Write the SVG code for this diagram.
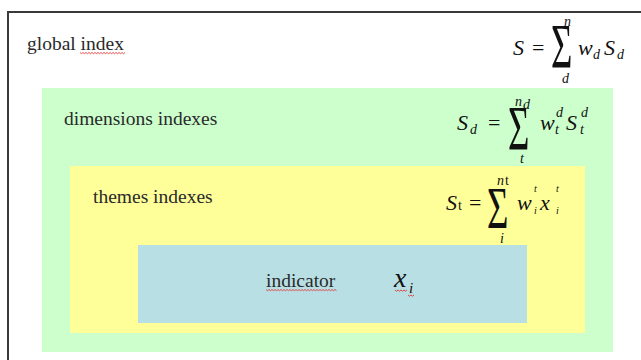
<svg xmlns="http://www.w3.org/2000/svg" width="641" height="360" viewBox="0 0 641 360">
<style>
text{font-family:'Liberation Serif','DejaVu Serif',serif}
.lbl{font-size:19.5px;fill:#2a2a2a}
.m{font-style:italic;fill:#111}
.r{fill:#111}
.big{font-size:22px}
.sm{font-size:14px}
.xs{font-size:10px}
.sig{font-size:46px;fill:#111}
.sq{fill:none;stroke:#e03a3a;stroke-width:0.9}
</style>
<rect x="0" y="0" width="641" height="360" fill="#ffffff"/>
<g id="global">
<path d="M8,360 L8,12 L641,12" fill="none" stroke="#3a3a3a" stroke-width="2"/>
<text class="lbl" x="27" y="50" font-family="Liberation Serif, serif">global index</text>
<path class="sq" d="M80,52.5 l1.5,1.2 l1.5,-1.2 l1.5,1.2 l1.5,-1.2 l1.5,1.2 l1.5,-1.2 l1.5,1.2 l1.5,-1.2 l1.5,1.2 l1.5,-1.2 l1.5,1.2 l1.5,-1.2 l1.5,1.2 l1.5,-1.2 l1.5,1.2 l1.5,-1.2 l1.5,1.2 l1.5,-1.2 l1.5,1.2 l1.5,-1.2 l1.5,1.2 l1.5,-1.2 l1.5,1.2 l1.5,-1.2 l1.5,1.2 l1.5,-1.2 l1.5,1.2 l1.5,-1.2 l1.5,1.2 l1.5,-1.2"/>
<g id="formula-global" font-family="Liberation Serif, serif">
<text class="m big" x="513" y="55">S</text>
<text class="r big" x="532" y="55">=</text>
<text class="sig" transform="translate(551,68) scale(0.8,1.37)">Σ</text>
<text class="m sm" x="564" y="26">n</text>
<text class="m sm" x="562" y="83">d</text>
<text class="m big" x="578" y="55">w</text>
<text class="m sm" x="593" y="59">d</text>
<text class="m big" x="604" y="55">S</text>
<text class="m sm" x="617" y="59">d</text>
</g>
</g>
<g id="dimensions">
<rect x="42" y="88" width="571" height="264" fill="#ccffcc"/>
<text class="lbl" x="64" y="125" font-family="Liberation Serif, serif">dimensions indexes</text>
<g id="formula-dimensions" font-family="Liberation Serif, serif">
<text class="m big" x="457" y="130">S</text>
<text class="m sm" x="470" y="134">d</text>
<text class="r big" x="488" y="130">=</text>
<text class="sig" transform="translate(508,150) scale(0.8,1.37)">Σ</text>
<text class="m sm" x="515" y="106">n</text>
<text class="m sm" x="523" y="109">d</text>
<text class="m sm" x="520" y="163">t</text>
<text class="m big" x="540" y="130">w</text>
<text class="m sm" x="556" y="117">d</text>
<text class="m sm" x="555" y="134">t</text>
<text class="m big" x="566" y="130">S</text>
<text class="m sm" x="581" y="117">d</text>
<text class="m sm" x="580" y="134">t</text>
</g>
</g>
<g id="themes">
<rect x="70" y="166" width="515" height="167" fill="#ffff99"/>
<text class="lbl" x="93" y="203" font-family="Liberation Serif, serif">themes indexes</text>
<g id="formula-themes" font-family="Liberation Serif, serif">
<text class="m big" x="446" y="210">S</text>
<text class="r sm" x="458" y="210">t</text>
<text class="r big" x="469" y="210">=</text>
<text class="sig" transform="translate(487,228) scale(0.8,1.3)">Σ</text>
<text class="m sm" x="497" y="185">n</text>
<text class="r sm" x="505" y="185">t</text>
<text class="m sm" x="500" y="243">i</text>
<text class="m big" x="517" y="210">w</text>
<text class="m xs" x="534" y="192">t</text>
<text class="m xs" x="534" y="214">i</text>
<text class="m big" x="540" y="210">x</text>
<text class="m xs" x="556" y="192">t</text>
<text class="m xs" x="556" y="214">i</text>
</g>
</g>
<g id="indicator">
<rect x="138" y="245" width="389" height="78" fill="#b8dfe3"/>
<text class="lbl" x="266" y="287" font-size="20" font-family="Liberation Serif, serif">indicator</text>
<path class="sq" d="M266,289.5 l1.5,1.2 l1.5,-1.2 l1.5,1.2 l1.5,-1.2 l1.5,1.2 l1.5,-1.2 l1.5,1.2 l1.5,-1.2 l1.5,1.2 l1.5,-1.2 l1.5,1.2 l1.5,-1.2 l1.5,1.2 l1.5,-1.2 l1.5,1.2 l1.5,-1.2 l1.5,1.2 l1.5,-1.2 l1.5,1.2 l1.5,-1.2 l1.5,1.2 l1.5,-1.2 l1.5,1.2 l1.5,-1.2 l1.5,1.2 l1.5,-1.2 l1.5,1.2 l1.5,-1.2 l1.5,1.2 l1.5,-1.2 l1.5,1.2 l1.5,-1.2 l1.5,1.2 l1.5,-1.2 l1.5,1.2 l1.5,-1.2 l1.5,1.2 l1.5,-1.2 l1.5,1.2 l1.5,-1.2 l1.5,1.2 l1.5,-1.2 l1.5,1.2 l1.5,-1.2 l1.5,1.2 l1.5,-1.2 l1.5,1.2"/>
<text class="m" x="394" y="287" font-size="28" font-family="Liberation Serif, serif">x</text>
<text class="m" x="409" y="293" font-size="15" fill="#1a2a55" font-family="Liberation Serif, serif">i</text>
<path class="sq" d="M395,290 l1.5,1.2 l1.5,-1.2 l1.5,1.2 l1.5,-1.2 l1.5,1.2 l1.5,-1.2 l1.5,1.2 l1.5,-1.2"/>
<path class="sq" d="M408,295 l1.5,1.2 l1.5,-1.2 l1.5,1.2 l1.5,-1.2"/>
</g>
</svg>
